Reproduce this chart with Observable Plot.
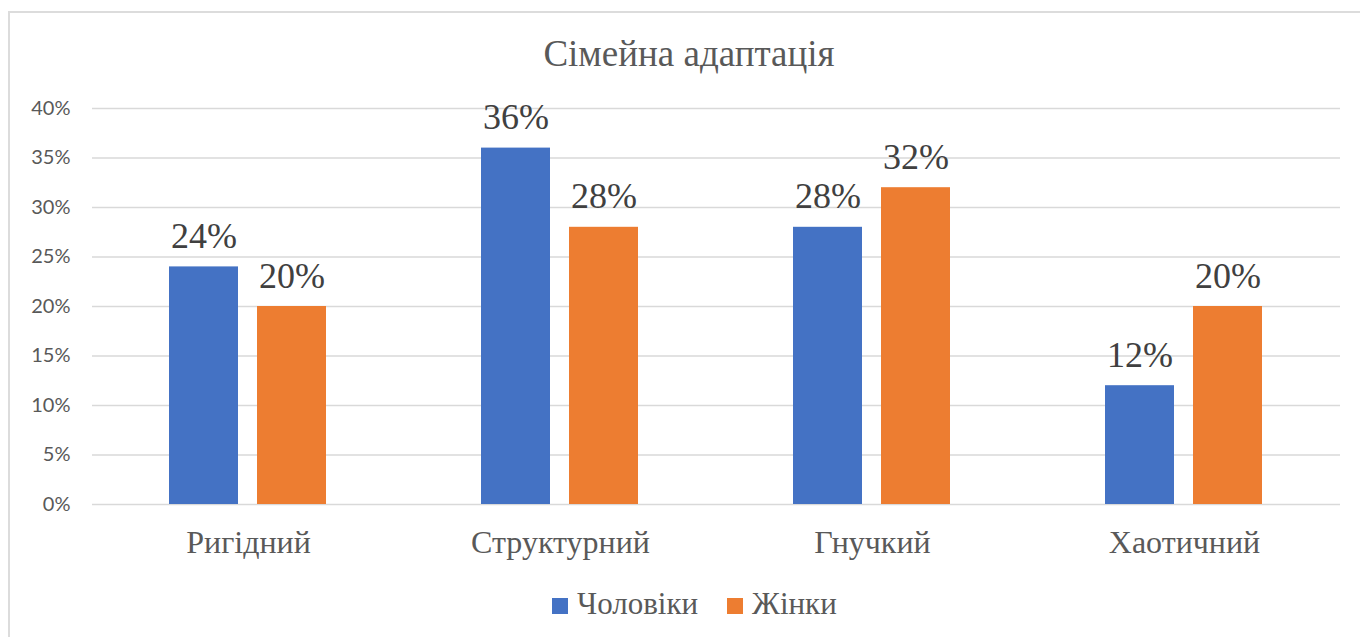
<!DOCTYPE html>
<html>
<head>
<meta charset="utf-8">
<script src="https://cdn.jsdelivr.net/npm/d3@7"></script>
<script src="https://cdn.jsdelivr.net/npm/@observablehq/plot@0.6"></script>
<style>
  html, body { margin: 0; padding: 0; background: #fff; }
  #wrap { position: relative; width: 1360px; height: 637px; overflow: hidden; background: #fff; }
  #chart { position: absolute; left: 0; top: 0; }
  #frame { position: absolute; left: 8px; top: 11px; width: 1400px; height: 700px; border: 2px solid #dcdcdc; box-sizing: border-box; pointer-events: none; }
  #title { position: absolute; left: 0; top: 35px; width: 1378px; text-align: center; font-family: 'Liberation Serif', 'Times New Roman', serif; font-size: 37px; line-height: 37px; color: #595959; }
  #legend { position: absolute; left: 552px; top: 588px; font-family: 'Liberation Serif', 'Times New Roman', serif; font-size: 31px; line-height: 31px; color: #595959; white-space: nowrap; }
  .item { display: inline-block; position: relative; }
  .sw { display: inline-block; width: 16px; height: 16px; vertical-align: baseline; margin-right: 9px; position: relative; top: 0px; }
</style>
</head>
<body>
<div id="wrap">
  <div id="chart"></div>
  <div id="frame"></div>
  <div id="title">Сімейна адаптація</div>
  <div id="legend"></div>
</div>
<script>
const categories = ["Ригідний", "Структурний", "Гнучкий", "Хаотичний"];
const series = ["Чоловіки", "Жінки"];
const men = [0.24, 0.36, 0.28, 0.12];
const women = [0.20, 0.28, 0.32, 0.20];
const yTicks = [0, 0.05, 0.10, 0.15, 0.20, 0.25, 0.30, 0.35, 0.40];
const colors = ["#4472C4", "#ED7D31"];

const values = [men, women];
const data = [];
categories.forEach((c, i) => {
  series.forEach((s, j) => data.push({category: c, series: s, value: values[j][i]}));
});

const pct = d3.format(".0%");
const serifFont = "'Liberation Serif', 'Times New Roman', serif";

const plot = Plot.plot({
  width: 1360,
  height: 637,
  marginLeft: 90,
  marginRight: 19,
  marginTop: 108,
  marginBottom: 133,
  style: {background: "transparent", color: "#595959", overflow: "visible"},
  fx: {domain: categories, padding: 0, label: null},
  x: {domain: series, paddingInner: 0.2135, paddingOuter: 0.862, axis: null},
  y: {domain: [0, 0.4], label: null},
  color: {domain: series, range: colors},
  marks: [
    Plot.ruleY(yTicks, {stroke: "#d9d9d9", strokeWidth: 1.5}),
    Plot.barY(data, {fx: "category", x: "series", y: "value", fill: "series"}),
    Plot.text(data, {
      fx: "category", x: "series", y: "value",
      text: d => pct(d.value),
      lineAnchor: "bottom", dy: -19,
      fontSize: 36, fontFamily: serifFont, fill: "#404040"
    }),
    Plot.axisY({
      ticks: yTicks, tickFormat: pct, tickSize: 0, tickPadding: 22,
      fontSize: 20, fontFamily: "Lato", fill: "#595959", label: null
    }),
    Plot.axisFx({
      anchor: "bottom", tickSize: 0, tickPadding: 26,
      fontSize: 32, fontFamily: serifFont, fill: "#595959", label: null
    })
  ]
});
document.getElementById("chart").appendChild(plot);

const cs = plot.scale("color");
const legend = document.getElementById("legend");
cs.domain.forEach((s, i) => {
  const item = document.createElement("span");
  item.className = "item";
  item.style.marginRight = i < cs.domain.length - 1 ? "29px" : "0";
  const sw = document.createElement("span");
  sw.className = "sw";
  sw.style.background = cs.range[i];
  item.appendChild(sw);
  item.appendChild(document.createTextNode(s));
  legend.appendChild(item);
});
</script>
</body>
</html>
